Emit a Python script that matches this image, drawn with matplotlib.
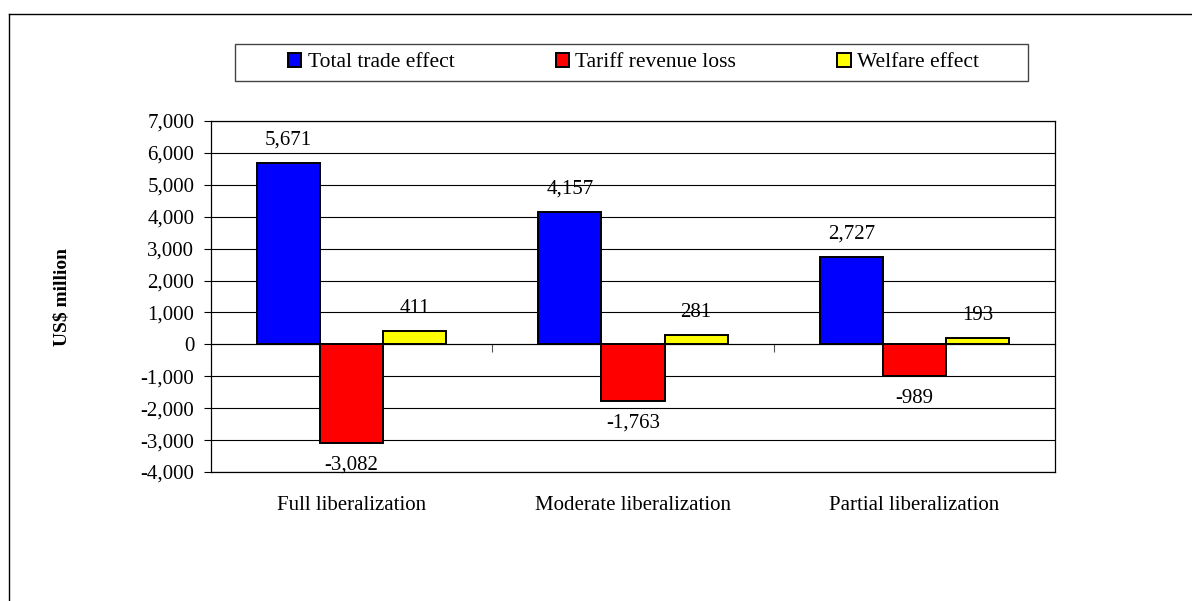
import matplotlib
matplotlib.use("Agg")
import matplotlib.pyplot as plt
from matplotlib.lines import Line2D
from matplotlib.patches import Rectangle
import numpy as np

categories = ["Full liberalization", "Moderate liberalization", "Partial liberalization"]
series_names = ["Total trade effect", "Tariff revenue loss", "Welfare effect"]
total_trade = [5671, 4157, 2727]
tariff_loss = [-3082, -1763, -989]
welfare = [411, 281, 193]
colors = ["#0000FF", "#FF0000", "#FFFF00"]
yticks = list(range(-4000, 7001, 1000))

plt.rcParams['font.family'] = ['Liberation Serif', 'DejaVu Serif']
FS = 15

fig = plt.figure(figsize=(11.92, 6.01), dpi=100)
W, H = 1192, 601
ax = fig.add_axes([211 / W, 1 - 472 / H, (1055 - 211) / W, (472 - 121) / H])

x = np.arange(len(categories))
w = 0.224
all_series = [total_trade, tariff_loss, welfare]
handles = []
for i, (vals, col, name) in enumerate(zip(all_series, colors, series_names)):
    bars = ax.bar(x + (i - 1) * w, vals, width=w, color=col, edgecolor='black',
                  linewidth=1.4, label=name, zorder=3)
    handles.append(bars)
    for xi, v in zip(x + (i - 1) * w, vals):
        off = 16.5 if v >= 0 else -16
        ax.annotate(f"{v:,}", (xi, v), xytext=(0, off), textcoords='offset points',
                    ha='center', va='center', fontsize=FS, zorder=4)

ax.set_xlim(-0.5, len(categories) - 0.5)
ax.set_ylim(min(yticks), max(yticks))
ax.set_yticks(yticks)
ax.set_yticklabels([f"{t:,}" for t in yticks], fontsize=FS)
ax.yaxis.grid(True, color='black', linewidth=0.8, zorder=0)
ax.set_axisbelow(True)
ax.tick_params(axis='y', direction='out', length=5, width=0.8, pad=7)

ax.set_xticks(x)
ax.set_xticklabels(categories, fontsize=FS)
ax.tick_params(axis='x', length=0, pad=17)

for s in ax.spines.values():
    s.set_linewidth(0.9)
    s.set_color('black')

# category-axis at zero with boundary ticks
sec = ax.secondary_xaxis(0, transform=ax.transData)
sec.set_xticks(np.arange(0.5, len(categories) - 0.5, 1.0))
sec.set_xticklabels([])
sec.tick_params(direction='out', length=6, width=0.8, color='#555555')
sec.spines['bottom'].set_linewidth(0.8)

ax.set_ylabel("US$ million", fontsize=14, fontweight='bold')
ax.yaxis.set_label_coords(-(211 - 70) / (1055 - 211), 0.5)

# legend box
fig.add_artist(Rectangle((235 / W, 1 - 81 / H), (1028 - 235) / W, (81 - 44) / H,
                         transform=fig.transFigure, facecolor='white',
                         edgecolor='#444444', linewidth=1.0))
leg = fig.legend(handles=handles, labels=series_names, ncol=3, loc='center',
                 bbox_to_anchor=(((235 + 1028) / 2 + 2) / W, 1 - 62.5 / H),
                 frameon=False, fontsize=15.5, handlelength=0.62, handleheight=0.62,
                 handletextpad=0.3, columnspacing=4.7)

# outer frame
fig.add_artist(Line2D([9 / W, 9 / W], [0, 1 - 14 / H], transform=fig.transFigure,
                      color='black', linewidth=1.0))
fig.add_artist(Line2D([9 / W, 1], [1 - 14 / H, 1 - 14 / H], transform=fig.transFigure,
                      color='black', linewidth=1.0))

fig.savefig("out.png", dpi=100)
